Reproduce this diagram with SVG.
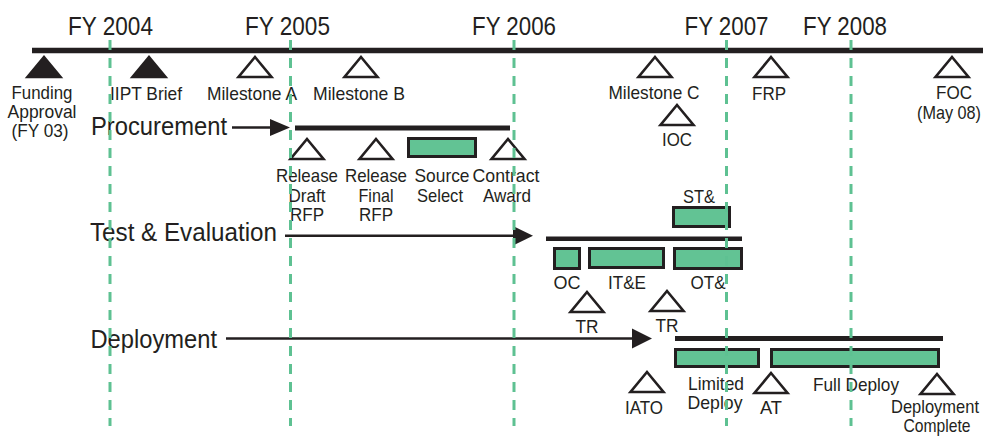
<svg xmlns="http://www.w3.org/2000/svg" xmlns:xlink="http://www.w3.org/1999/xlink" width="983" height="437" viewBox="0 0 983 437">
<style>
text{font-family:"Liberation Sans",Arial,Helvetica,sans-serif;fill:#231f20;}
.yr{font-size:25px;text-anchor:middle;}
.lb{font-size:19px;text-anchor:middle;}
.hd{font-size:26px;}
.tri{stroke:#231f20;stroke-width:2.6;stroke-linejoin:miter;}
.open{fill:#fff;}
.solid{fill:#231f20;}
.box{fill:#62c394;stroke:#231f20;stroke-width:3;}
.bar{stroke:#231f20;stroke-width:5;fill:none;}
.arr{stroke:#231f20;stroke-width:2.5;fill:none;}
.head{fill:#231f20;}
.grid{stroke:#5ec192;stroke-width:3;stroke-dasharray:10 8;fill:none;}
</style>
<defs>
<path id="tri" d="M0,0 L16.5,20 L-16.5,20 Z"/>
</defs>
<rect width="983" height="437" fill="#fff"/>

<g id="timeline">
<line class="bar" x1="32" y1="50.5" x2="983" y2="50.5" style="stroke-width:5.5"/>
<text class="yr" x="110.5" y="35" textLength="85" lengthAdjust="spacingAndGlyphs">FY 2004</text>
<text class="yr" x="287.5" y="35" textLength="85" lengthAdjust="spacingAndGlyphs">FY 2005</text>
<text class="yr" x="514" y="35" textLength="84" lengthAdjust="spacingAndGlyphs">FY 2006</text>
<text class="yr" x="726.5" y="35" textLength="84" lengthAdjust="spacingAndGlyphs">FY 2007</text>
<text class="yr" x="845" y="35" textLength="84" lengthAdjust="spacingAndGlyphs">FY 2008</text>
</g>

<g id="funding-approval">
<use href="#tri" x="44" y="57" class="tri solid"/>
<text class="lb" x="42" y="99" textLength="61" lengthAdjust="spacingAndGlyphs">Funding</text>
<text class="lb" x="42" y="118" textLength="69" lengthAdjust="spacingAndGlyphs">Approval</text>
<text class="lb" x="40" y="137" textLength="57" lengthAdjust="spacingAndGlyphs">(FY 03)</text>
</g>
<g id="iipt-brief">
<use href="#tri" x="149" y="57" class="tri solid"/>
<text class="lb" x="146" y="100" textLength="72" lengthAdjust="spacingAndGlyphs">IIPT Brief</text>
</g>
<g id="milestone-a">
<use href="#tri" x="255" y="57" class="tri open"/>
<text class="lb" x="252" y="100" textLength="90" lengthAdjust="spacingAndGlyphs">Milestone A</text>
</g>
<g id="milestone-b">
<use href="#tri" x="361" y="57" class="tri open"/>
<text class="lb" x="359" y="100" textLength="92" lengthAdjust="spacingAndGlyphs">Milestone B</text>
</g>
<g id="milestone-c">
<use href="#tri" x="655" y="57" class="tri open"/>
<text class="lb" x="654" y="99" textLength="91" lengthAdjust="spacingAndGlyphs">Milestone C</text>
</g>
<g id="ioc">
<use href="#tri" x="677" y="105" class="tri open"/>
<text class="lb" x="677" y="146" textLength="30" lengthAdjust="spacingAndGlyphs">IOC</text>
</g>
<g id="frp">
<use href="#tri" x="771" y="57" class="tri open"/>
<text class="lb" x="769" y="100" textLength="34" lengthAdjust="spacingAndGlyphs">FRP</text>
</g>
<g id="foc">
<use href="#tri" x="952" y="57" class="tri open"/>
<text class="lb" x="954" y="99" textLength="36" lengthAdjust="spacingAndGlyphs">FOC</text>
<text class="lb" x="949" y="119" textLength="64" lengthAdjust="spacingAndGlyphs">(May 08)</text>
</g>

<g id="procurement">
<text class="hd" x="91" y="135" textLength="136" lengthAdjust="spacingAndGlyphs">Procurement</text>
<line class="bar" x1="295" y1="128" x2="510" y2="128"/>
</g>
<g id="release-draft-rfp">
<use href="#tri" x="307" y="139" class="tri open"/>
<text class="lb" x="307" y="182" textLength="62" lengthAdjust="spacingAndGlyphs">Release</text>
<text class="lb" x="307" y="202" textLength="37" lengthAdjust="spacingAndGlyphs">Draft</text>
<text class="lb" x="307" y="221" textLength="34" lengthAdjust="spacingAndGlyphs">RFP</text>
</g>
<g id="release-final-rfp">
<use href="#tri" x="376" y="139" class="tri open"/>
<text class="lb" x="376" y="182" textLength="62" lengthAdjust="spacingAndGlyphs">Release</text>
<text class="lb" x="376" y="202" textLength="35" lengthAdjust="spacingAndGlyphs">Final</text>
<text class="lb" x="376" y="221" textLength="34" lengthAdjust="spacingAndGlyphs">RFP</text>
</g>
<g id="source-select">
<rect class="box" x="408.5" y="138.5" width="67" height="18"/>
<text class="lb" x="442" y="182" textLength="55" lengthAdjust="spacingAndGlyphs">Source</text>
<text class="lb" x="440" y="202" textLength="46" lengthAdjust="spacingAndGlyphs">Select</text>
</g>
<g id="contract-award">
<use href="#tri" x="508" y="139" class="tri open"/>
<text class="lb" x="506" y="182" textLength="67" lengthAdjust="spacingAndGlyphs">Contract</text>
<text class="lb" x="507" y="202" textLength="48" lengthAdjust="spacingAndGlyphs">Award</text>
</g>

<g id="test-evaluation">
<text class="hd" x="90" y="241" textLength="187" lengthAdjust="spacingAndGlyphs">Test &amp; Evaluation</text>
<line class="bar" x1="546" y1="238.7" x2="742" y2="238.7" style="stroke-width:4.5"/>
</g>
<g id="st">
<rect class="box" x="673.5" y="207.5" width="56" height="19"/>
<text class="lb" x="699" y="203" textLength="32" lengthAdjust="spacingAndGlyphs">ST&amp;</text>
</g>
<g id="oc">
<rect class="box" x="554.5" y="248.5" width="25" height="20"/>
<text class="lb" x="567" y="289" textLength="27" lengthAdjust="spacingAndGlyphs">OC</text>
</g>
<g id="ite">
<rect class="box" x="589.5" y="248.5" width="74" height="19"/>
<text class="lb" x="627" y="289" textLength="38" lengthAdjust="spacingAndGlyphs">IT&amp;E</text>
</g>
<g id="ot">
<rect class="box" x="674.5" y="248.5" width="67" height="20"/>
<text class="lb" x="708" y="289" textLength="35" lengthAdjust="spacingAndGlyphs">OT&amp;</text>
</g>
<g id="tr-1">
<use href="#tri" x="587" y="292" class="tri open"/>
<text class="lb" x="587" y="333" textLength="23" lengthAdjust="spacingAndGlyphs">TR</text>
</g>
<g id="tr-2">
<use href="#tri" x="667" y="291" class="tri open"/>
<text class="lb" x="667" y="332" textLength="23" lengthAdjust="spacingAndGlyphs">TR</text>
</g>

<g id="deployment">
<text class="hd" x="90.5" y="348" textLength="126.5" lengthAdjust="spacingAndGlyphs">Deployment</text>
<line class="bar" x1="675" y1="338.5" x2="943" y2="338.5"/>
</g>
<g id="iato">
<use href="#tri" x="647" y="372" class="tri open"/>
<text class="lb" x="644" y="414" textLength="38" lengthAdjust="spacingAndGlyphs">IATO</text>
</g>
<g id="limited-deploy">
<rect class="box" x="675.5" y="349.5" width="83" height="17"/>
<text class="lb" x="716" y="390" textLength="56" lengthAdjust="spacingAndGlyphs">Limited</text>
<text class="lb" x="715" y="409" textLength="55" lengthAdjust="spacingAndGlyphs">Deploy</text>
</g>
<g id="at">
<use href="#tri" x="771" y="373" class="tri open"/>
<text class="lb" x="771" y="414" textLength="22" lengthAdjust="spacingAndGlyphs">AT</text>
</g>
<g id="full-deploy">
<rect class="box" x="771.5" y="349.5" width="167" height="17"/>
<text class="lb" x="856" y="391" textLength="86" lengthAdjust="spacingAndGlyphs">Full Deploy</text>
</g>
<g id="deployment-complete">
<use href="#tri" x="937" y="374" class="tri open"/>
<text class="lb" x="935" y="413" textLength="88" lengthAdjust="spacingAndGlyphs">Deployment</text>
<text class="lb" x="937" y="432" textLength="67" lengthAdjust="spacingAndGlyphs">Complete</text>
</g>

<g id="connectors">
<line class="arr" x1="232" y1="127.5" x2="272" y2="127.5"/>
<polygon class="head" points="270,119 290,127.5 270,136"/>
<line class="arr" x1="285" y1="235.7" x2="515" y2="235.7"/>
<polygon class="head" points="513,226 533,235.7 513,245.4"/>
<line class="arr" x1="226" y1="338.5" x2="634" y2="338.5"/>
<polygon class="head" points="632,328.5 652,338.5 632,348.5"/>
</g>

<g id="fy-gridlines">
<line class="grid" x1="110" y1="40" x2="110" y2="426"/>
<line class="grid" x1="290.5" y1="40" x2="290.5" y2="426"/>
<line class="grid" x1="514" y1="40" x2="514" y2="426"/>
<line class="grid" x1="726.5" y1="40" x2="726.5" y2="426"/>
<line class="grid" x1="851" y1="40" x2="851" y2="426"/>
</g>
</svg>
